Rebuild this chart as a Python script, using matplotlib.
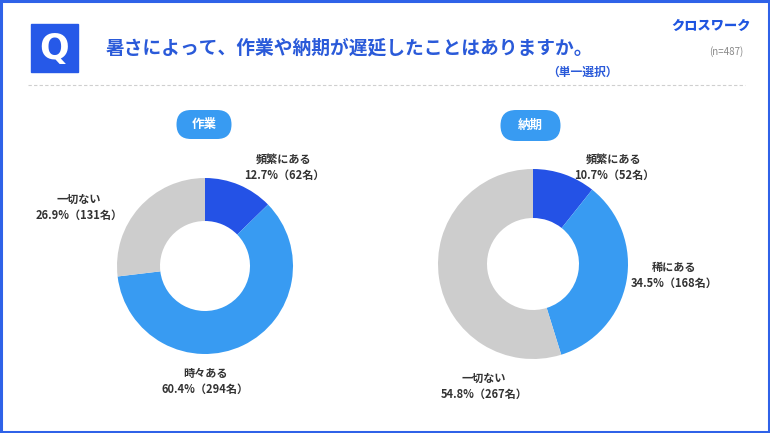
import matplotlib
matplotlib.use("Agg")
import matplotlib.pyplot as plt
from matplotlib.patches import FancyBboxPatch, Rectangle

plt.rcParams['font.family'] = ['Noto Sans CJK JP', 'DejaVu Sans']

# data
title = "暑さによって、作業や納期が遅延したことはありますか。"
subtitle = "（単一選択）"
sample = "(n=487)"
logo = "クロスワーク"

work_labels = ["頻繁にある", "時々ある", "一切ない"]
work_pct = [12.7, 60.4, 26.9]
work_n = [62, 294, 131]

due_labels = ["頻繁にある", "稀にある", "一切ない"]
due_pct = [10.7, 34.5, 54.8]
due_n = [52, 168, 267]

panel_titles = ["作業", "納期"]

DARK = "#2452e6"
LIGHT = "#389bf2"
GRAY = "#cdcdcd"
BLUE = "#2a5ad9"
colors = [DARK, LIGHT, GRAY]

W, H = 770, 433
fig = plt.figure(figsize=(W / 100, H / 100), dpi=100)
bg = fig.add_axes([0, 0, 1, 1])
bg.set_xlim(0, W)
bg.set_ylim(H, 0)
bg.axis("off")

# frame
bg.add_patch(Rectangle((1, 1), W - 2, H - 2, fill=False, ec="#2f62e8", lw=2.2))

# header
bg.add_patch(Rectangle((31, 24), 47, 48, color="#2659e8"))
bg.text(54.5, 48.5, "Q", color="white", fontsize=25, fontweight="bold",
        family=["DejaVu Sans"], ha="center", va="center")
bg.text(106, 48, title, color=BLUE, fontsize=13.5, fontweight="bold", va="center")
bg.text(582, 72, subtitle, color=BLUE, fontsize=8.5, fontweight="bold",
        ha="center", va="center")
bg.text(711, 26, logo, color="#1f55e0", fontsize=9.5, fontweight="heavy",
        ha="center", va="center")
bg.text(726, 52, sample, color="#888888", fontsize=7, ha="center", va="center")
bg.plot([28, 745], [85, 85], color="#cfcfcf", lw=0.8, ls=(0, (3, 2)))


def donut(cx, cy, r, inner, values):
    ax = fig.add_axes([(cx - r) / W, (H - cy - r) / H, 2 * r / W, 2 * r / H])
    ax.pie(values, colors=colors, startangle=90, counterclock=False,
           wedgeprops=dict(width=1 - inner / r, linewidth=0))
    ax.set_xlim(-1, 1)
    ax.set_ylim(-1, 1)
    ax.set_aspect("equal")
    ax.axis("off")


def pill(cx, cy, w, h, text):
    bg.add_patch(FancyBboxPatch((cx - w / 2 + h / 2, cy - h / 2), w - h, h,
                                boxstyle="round,pad=0,rounding_size=%f" % (h / 2),
                                fc=LIGHT, ec="none"))
    bg.text(cx, cy, text, color="white", fontsize=9, fontweight="bold",
            ha="center", va="center")


def label(x, y, name, pct, n):
    bg.text(x, y, name, color="#333333", fontsize=8, fontweight="bold",
            ha="center", va="center")
    bg.text(x, y + 16, f"{pct}%（{n}名）", color="#333333", fontsize=8,
            fontweight="bold", ha="center", va="center")


donut(205, 266, 88, 45, work_pct)
donut(533, 264, 95, 46, due_pct)

pill(204, 124.5, 84, 29, panel_titles[0])
pill(530.5, 125.5, 91, 31, panel_titles[1])

work_pos = [(284, 159), (205, 373), (79, 199)]
due_pos = [(614, 159), (674, 267), (484, 378)]
for (x, y), name, pct, n in zip(work_pos, work_labels, work_pct, work_n):
    label(x, y, name, pct, n)
for (x, y), name, pct, n in zip(due_pos, due_labels, due_pct, due_n):
    label(x, y, name, pct, n)

fig.savefig("out.png", dpi=100)
